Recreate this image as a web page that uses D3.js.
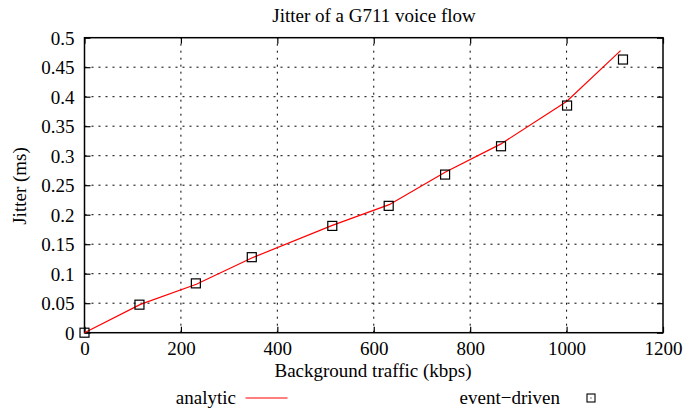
<!DOCTYPE html>
<html><head><meta charset="utf-8">
<script src="https://cdn.jsdelivr.net/npm/d3@7/dist/d3.min.js"></script>
</head><body style="margin:0"><svg id="c" width="684" height="410"></svg>
<script>
const analyticX = [0, 116, 232, 348, 514, 632, 748, 864, 1000, 1112];
const analyticY = [0, 0.048, 0.082, 0.127, 0.182, 0.217, 0.272, 0.320, 0.392, 0.478];
const eventX = [0, 114, 231, 347, 514, 631, 748, 864, 1001, 1117];
const eventY = [0, 0.0475, 0.0836, 0.128, 0.181, 0.215, 0.268, 0.316, 0.385, 0.463];
const xTicks = [0, 200, 400, 600, 800, 1000, 1200];
const yTicks = [0, 0.05, 0.1, 0.15, 0.2, 0.25, 0.3, 0.35, 0.4, 0.45, 0.5];
const yTickLabels = ["0","0.05","0.1","0.15","0.2","0.25","0.3","0.35","0.4","0.45","0.5"];

const FONT = 'Liberation Serif';
const FS = 19;
const L = 84.5, R = 663, T = 37.7, B = 332.7;
const svg = d3.select("#c").style("display", "block");
const x = d3.scaleLinear().domain([0, 1200]).range([L, R]);
const y = d3.scaleLinear().domain([0, 0.5]).range([B, T]);

// grid
const g = svg.append("g");
g.selectAll(".hg").data(yTicks.slice(1, -1)).join("line")
  .attr("x1", L).attr("x2", R).attr("y1", d => y(d)).attr("y2", d => y(d))
  .attr("stroke", "#000").attr("stroke-width", 1).attr("stroke-dasharray", "2,5");
g.selectAll(".vg").data(xTicks.slice(1, -1)).join("line")
  .attr("y1", B).attr("y2", T).attr("x1", d => x(d)).attr("x2", d => x(d))
  .attr("stroke", "#000").attr("stroke-width", 1).attr("stroke-dasharray", "2,5");

// axes (ticks inward, mirrored)
const fmtY = (d, i) => yTickLabels[i];
const axL = svg.append("g").attr("transform", `translate(${L},0)`)
  .call(d3.axisLeft(y).tickValues(yTicks).tickFormat(fmtY).tickSizeInner(-6).tickSizeOuter(0).tickPadding(10));
const axR = svg.append("g").attr("transform", `translate(${R},0)`)
  .call(d3.axisRight(y).tickValues(yTicks).tickFormat("").tickSizeInner(-6).tickSizeOuter(0));
const axB = svg.append("g").attr("transform", `translate(0,${B})`)
  .call(d3.axisBottom(x).tickValues(xTicks).tickFormat(d3.format("d")).tickSizeInner(-6).tickSizeOuter(0).tickPadding(9));
const axT = svg.append("g").attr("transform", `translate(0,${T})`)
  .call(d3.axisTop(x).tickValues(xTicks).tickFormat("").tickSizeInner(-6).tickSizeOuter(0));
[axL, axR, axB, axT].forEach(a => {
  a.attr("font-family", null).attr("font-size", null);
  a.select(".domain").remove();
  a.selectAll("line").attr("stroke", "#000").attr("stroke-width", 1.2);
  a.selectAll("text").attr("font-size", FS).style("font-family", FONT).attr("fill", "#000");
});
axL.selectAll("text").attr("dy", "0.34em");
axB.selectAll("text").attr("dy", "0.71em");

// frame
svg.append("rect").attr("x", L).attr("y", T).attr("width", R - L).attr("height", B - T)
  .attr("fill", "none").attr("stroke", "#000").attr("stroke-width", 1.5);

// analytic line
const pts = analyticX.map((d, i) => [d, analyticY[i]]);
svg.append("path").datum(pts)
  .attr("d", d3.line().x(d => x(d[0])).y(d => y(d[1])))
  .attr("fill", "none").attr("stroke", "#ff0000").attr("stroke-width", 1.2);

// event-driven markers
const s = 9;
svg.selectAll(".m").data(eventX.map((d, i) => [d, eventY[i]])).join("rect")
  .attr("x", d => x(d[0]) - s / 2).attr("y", d => y(d[1]) - s / 2)
  .attr("width", s).attr("height", s).attr("fill", "none").attr("stroke", "#000").attr("stroke-width", 1.2);

function label(xp, yp, txt, anchor, rot) {
  const t = svg.append("text").attr("text-anchor", anchor)
    .style("font-family", FONT).attr("font-size", FS).attr("fill", "#000").text(txt);
  if (rot) t.attr("transform", `translate(${xp},${yp}) rotate(${rot})`);
  else t.attr("x", xp).attr("y", yp);
  return t;
}
label(374, 22, "Jitter of a G711 voice flow", "middle");
label(373, 377, "Background traffic (kbps)", "middle");
label(26, 186, "Jitter (ms)", "middle", -90);

// legend
label(236, 404, "analytic", "end");
svg.append("line").attr("x1", 245.5).attr("x2", 287.5).attr("y1", 398).attr("y2", 398)
  .attr("stroke", "#ff0000").attr("stroke-width", 1.2);
label(560, 404, "event\u2212driven", "end");
svg.append("rect").attr("x", 591 - 4).attr("y", 398 - 4).attr("width", 8).attr("height", 8)
  .attr("fill", "none").attr("stroke", "#000").attr("stroke-width", 1.1);
svg.append("rect").attr("x", 590.5).attr("y", 397.5).attr("width", 1).attr("height", 1).attr("fill", "#000");
</script></body></html>
